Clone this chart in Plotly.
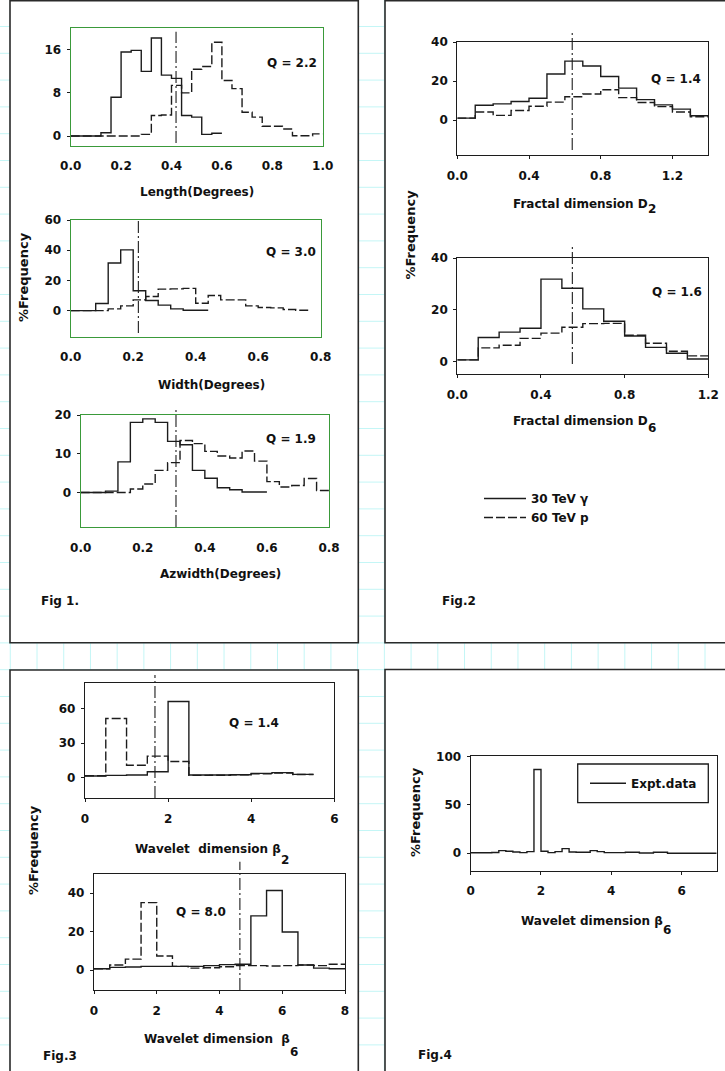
import numpy as np
import plotly.graph_objects as go

W, H = 725, 1071
FONT = "DejaVu Sans"

# ------------------------------------------------------------------ data
# Fig 1  (bin width 0.04 deg)
length_bw = 0.04
length_gamma = [0, 0, 0, 0.6, 7.2, 15.6, 15.9, 12.0, 18.2, 11.3, 10.7, 3.8, 3.5, 0.3, 0.5]
length_proton = [0, 0, 0, 0, 0, 0, 0, 0.3, 3.8, 3.9, 9.4, 8.0, 12.4, 12.9, 17.4,
                 10.3, 8.8, 4.4, 3.5, 1.8, 1.8, 1.3, 0.05, 0.05, 0.4]
length_q = 0.418

width_bw = 0.04
width_gamma = [0, 0, 4.7, 31.5, 40.2, 13.1, 6.7, 3.6, 1.1, 0.2, 0.2]
width_proton = [0, 0, 0, 1.1, 3.1, 7.1, 9.3, 14.2, 14.4, 14.7, 4.9, 10.0, 7.1, 7.1,
                3.1, 2.0, 1.8, 0.7, 0.2]
width_q = 0.2165

azw_bw = 0.04
azw_gamma = [0, 0, 0.35, 7.9, 18.1, 19.0, 18.1, 13.2, 12.3, 5.7, 3.65, 1.2, 0.7, 0.1, 0.1]
azw_proton = [0, 0, 0, 0, 0.9, 2.2, 5.7, 7.7, 13.4, 12.6, 10.6, 9.4, 8.9, 10.7, 8.1,
              2.8, 1.4, 1.8, 3.6, 0.5]
azw_q = 0.307

# Fig 2  (bin width 0.1)
d2_bw = 0.1
d2_gamma = [1.0, 7.6, 8.3, 9.5, 11.2, 23.7, 30.3, 27.8, 22.4, 16.4, 10.5, 7.8, 5.6, 2.2]
d2_proton = [1.0, 4.1, 2.4, 4.9, 7.1, 9.2, 12.0, 13.4, 15.6, 11.5, 9.0, 6.9, 4.1, 1.7]
d2_q = 0.641

d6_bw = 0.1
d6_gamma = [0.65, 9.3, 11.4, 12.9, 31.9, 28.4, 20.4, 15.6, 9.9, 5.5, 3.2, 1.0]
d6_proton = [0.65, 5.3, 6.3, 9.0, 11.0, 13.3, 14.7, 14.8, 10.2, 7.1, 4.0, 2.2]
d6_q = 0.55

# Fig 3  (bin width 0.5)
b2_bw = 0.5
b2_gamma = [1.5, 2.0, 2.3, 5.2, 65.9, 2.3, 2.3, 2.6, 3.8, 4.4, 2.9]
b2_proton = [1.7, 51.3, 10.8, 18.7, 14.0, 2.0, 2.2, 2.5, 3.5, 4.0, 2.8]
b2_q = 1.684

b6_bw = 0.5
b6_gamma = [0.7, 1.4, 1.6, 1.9, 1.9, 1.9, 1.9, 2.3, 2.8, 3.0, 28.2, 41.4, 19.8, 2.6, 1.0, 0.7]
b6_proton = [0.7, 2.6, 5.7, 35.1, 7.3, 1.9, 1.0, 1.2, 1.7, 2.3, 2.3, 2.1, 2.3, 2.6, 2.3, 3.0]
b6_q = 4.65

# Fig 4  (bin width 0.2)
expt_bw = 0.2
expt_b6 = [0.5, 0.5, 0.6, 0.8, 2.8, 2.1, 1.4, 0.7, 1.7, 86.6, 2.1, 0.7, 1.7, 4.8, 1.4,
           1.0, 1.0, 2.8, 1.7, 0.7, 0.7, 0.7, 1.0, 1.0, 0.3, 0.3, 1.0, 1.0,
           0, 0, 0, 0, 0, 0, 0]

q_labels = ["Q = 2.2", "Q = 3.0", "Q = 1.9", "Q = 1.4", "Q = 1.6", "Q = 1.4", "Q = 8.0"]
series_names = ["30 TeV \u03b3", "60 TeV p", "Expt.data"]

# ------------------------------------------------------------------ helpers
def px(x):
    return x / W


def py(y):
    return 1 - y / H


def step_xy(values, bw):
    edges = bw * np.arange(len(values) + 1)
    return edges, list(values) + [values[-1]]


GREEN = "#3a9a3a"
INK = "#1c1c1c"
TXT = "#111111"

# panel layout: frame in px (x0, y0, x1, y1), ranges, ticks, frame colour, x tick marks
panels = [
    dict(frame=(70.7, 28.3, 322.7, 145.7), xr=[0, 1.0], yr=[-1.8, 20], xt=[0, 0.2, 0.4, 0.6, 0.8, 1.0], xf=".1f", yt=[0, 8, 16], col=GREEN, xtick=False),
    dict(frame=(70.7, 220.0, 320.7, 336.7), xr=[0, 0.8], yr=[-17.3, 60], xt=[0, 0.2, 0.4, 0.6, 0.8], xf=".1f", yt=[0, 20, 40, 60], col=GREEN, xtick=False),
    dict(frame=(80.7, 415.0, 329.0, 527.3), xr=[0, 0.8], yr=[-9, 20], xt=[0, 0.2, 0.4, 0.6, 0.8], xf=".1f", yt=[0, 10, 20], col=GREEN, xtick=False),
    dict(frame=(457.3, 41.7, 708.3, 155.0), xr=[0, 1.4], yr=[-18, 40.3], xt=[0, 0.4, 0.8, 1.2], xf=".1f", yt=[0, 20, 40], col=INK, xtick=True),
    dict(frame=(457.3, 257.7, 708.3, 374.0), xr=[0, 1.2], yr=[-4.8, 40.2], xt=[0, 0.4, 0.8, 1.2], xf=".1f", yt=[0, 20, 40], col=INK, xtick=True),
    dict(frame=(85.0, 683.3, 334.3, 798.3), xr=[0, 6], yr=[-17.8, 81.7], xt=[0, 2, 4, 6], xf="d", yt=[0, 30, 60], col=INK, xtick=True),
    dict(frame=(94.0, 874.0, 345.0, 990.0), xr=[0, 8], yr=[-10.4, 50], xt=[0, 2, 4, 6, 8], xf="d", yt=[0, 20, 40], col=INK, xtick=True),
    dict(frame=(470.7, 756.0, 716.7, 870.7), xr=[0, 7], yr=[-18, 100.6], xt=[0, 2, 4, 6], xf="d", yt=[0, 50, 100], col=INK, xtick=True),
]

hist_pairs = [
    (length_gamma, length_proton, length_bw, length_q),
    (width_gamma, width_proton, width_bw, width_q),
    (azw_gamma, azw_proton, azw_bw, azw_q),
    (d2_gamma, d2_proton, d2_bw, d2_q),
    (d6_gamma, d6_proton, d6_bw, d6_q),
    (b2_gamma, b2_proton, b2_bw, b2_q),
    (b6_gamma, b6_proton, b6_bw, b6_q),
]
# vertical extent of the Q (cut) lines, as fraction of each plot's height
qline_span = [(0.023, 0.971), (0.032, 1.009), (0.003, 1.071), (0.044, 1.088),
              (0.086, 1.095), (0.003, 1.072), (0.0, 1.106)]
q_pos = [(292, 63), (291, 252), (291, 439), (676, 79), (676.7, 291.7), (254, 723.3), (200.7, 911.7)]

fig = go.Figure()
tickfont = dict(family=FONT, size=12, color=TXT, weight="bold")
shapes = []

# background spreadsheet grid
GRID = "#c4f6f6"
for k in range(-2, 40):
    yv = 53.3 + 26.8 * k
    if 0 <= yv <= H:
        shapes.append(dict(type="line", xref="paper", yref="paper", x0=0, x1=1, y0=py(yv), y1=py(yv),
                           line=dict(color=GRID, width=1), layer="below"))
for k in range(-1, 27):
    xv = 37 + 26.72 * k
    if 0 <= xv <= W:
        shapes.append(dict(type="line", xref="paper", yref="paper", x0=px(xv), x1=px(xv), y0=0, y1=1,
                           line=dict(color=GRID, width=1), layer="below"))
# panel boxes
for (x0, y0, x1, y1) in [(10, 0.8, 358.3, 642.7), (385, 0.8, 740, 642.7),
                         (10, 670, 358.3, 1090), (385, 669.5, 740, 1090)]:
    shapes.append(dict(type="rect", xref="paper", yref="paper", x0=px(x0), x1=px(x1), y0=py(y1), y1=py(y0),
                       fillcolor="white", line=dict(color="#2a2a2a", width=1.6), layer="below"))

layout_axes = {}
for i, p in enumerate(panels, start=1):
    sx = "" if i == 1 else str(i)
    x0, y0, x1, y1 = p["frame"]
    layout_axes["xaxis" + sx] = dict(
        domain=[px(x0), px(x1)], range=p["xr"], anchor="y" + sx, automargin=False,
        tickvals=p["xt"], tickformat=p["xf"], showgrid=False, zeroline=False,
        showline=True, mirror=True, linecolor=p["col"], linewidth=1.3,
        ticks="outside" if p["xtick"] else "", ticklen=3, tickcolor=INK, tickwidth=1,
        tickfont=tickfont, ticklabelstandoff=6 if p["xtick"] else 9, fixedrange=True)
    layout_axes["yaxis" + sx] = dict(
        domain=[py(y1), py(y0)], range=p["yr"], anchor="x" + sx, automargin=False,
        tickvals=p["yt"], showgrid=False, zeroline=False,
        showline=True, mirror=True, linecolor=p["col"], linewidth=1.3,
        ticks="outside", ticklen=3, tickcolor=INK, tickwidth=1,
        tickfont=tickfont, ticklabelstandoff=3, fixedrange=True)

for i, (g, pr, bw, q) in enumerate(hist_pairs, start=1):
    sx = "" if i == 1 else str(i)
    xg, yg = step_xy(g, bw)
    xp, yp = step_xy(pr, bw)
    fig.add_trace(go.Scatter(x=xp, y=yp, mode="lines", line=dict(shape="hv", color=INK, width=1.4, dash="9px,3px"),
                             name=series_names[1], showlegend=(i == 4), legend="legend",
                             xaxis="x" + sx, yaxis="y" + sx))
    fig.add_trace(go.Scatter(x=xg, y=yg, mode="lines", line=dict(shape="hv", color=INK, width=1.4),
                             name=series_names[0], showlegend=(i == 4), legend="legend",
                             xaxis="x" + sx, yaxis="y" + sx))
    lo, hi = qline_span[i - 1]
    shapes.append(dict(type="line", xref="x" + sx, yref="y" + sx + " domain", x0=q, x1=q, y0=lo, y1=hi,
                       line=dict(color=INK, width=1.1, dash="12px,3px,2px,3px"), layer="above"))

xe, ye = step_xy(expt_b6, expt_bw)
fig.add_trace(go.Scatter(x=xe, y=ye, mode="lines", line=dict(shape="hv", color=INK, width=1.4),
                         name=series_names[2], showlegend=True, legend="legend2",
                         xaxis="x8", yaxis="y8"))

# legend box of Fig.4
shapes.append(dict(type="rect", xref="paper", yref="paper", x0=px(577.7), x1=px(708.3), y0=py(802.7), y1=py(764),
                   line=dict(color=INK, width=1.3), fillcolor="rgba(0,0,0,0)", layer="above"))

# ------------------------------------------------------------------ text
ann = []
bold12 = dict(family=FONT, size=12, color=TXT, weight="bold")
bold13 = dict(family=FONT, size=13, color=TXT, weight="bold")


def add_text(text, x, y, font=bold12, xanchor="center", yanchor="middle", angle=0):
    ann.append(dict(text=text, x=px(x), y=py(y), xref="paper", yref="paper", showarrow=False,
                    xanchor=xanchor, yanchor=yanchor, font=font, textangle=angle,
                    borderpad=0, borderwidth=0))


for lab, (qx, qy) in zip(q_labels, q_pos):
    add_text(lab, qx, qy)

add_text("Length(Degrees)", 197, 192)
add_text("Width(Degrees)", 211, 385)
add_text("Azwidth(Degrees)", 220.7, 574)

# axis titles with subscripts: main text ends where the (full size) subscript begins
sub_titles = [
    ("Fractal dimension D", "2", 647.5, 203.5, 209),
    ("Fractal dimension D", "6", 647.5, 421.5, 428),
    ("Wavelet\u00a0 dimension \u03b2", "2", 281.0, 848.5, 860),
    ("Wavelet dimension\u00a0 \u03b2", "6", 290.3, 1039, 1051.5),
    ("Wavelet dimension \u03b2", "6", 662.5, 921, 930),
]
for main, sub, xs, ym, ysub in sub_titles:
    add_text(main, xs, ym, xanchor="right")
    add_text(sub, xs, ysub, xanchor="left")

for (x, y) in [(24, 277), (410, 234.5), (33, 850), (415, 812)]:
    add_text("%Frequency", x, y, font=bold13, angle=-90)

add_text("Fig 1.", 40.7, 600.7, xanchor="left")
add_text("Fig.2", 442.3, 601, xanchor="left")
add_text("Fig.3", 42.7, 1056, xanchor="left")
add_text("Fig.4", 418.3, 1055, xanchor="left")

fig.update_layout(
    template="none",
    width=W, height=H, margin=dict(l=0, r=0, t=0, b=0, pad=0, autoexpand=False),
    paper_bgcolor="white", plot_bgcolor="rgba(0,0,0,0)",
    shapes=shapes, annotations=ann,
    legend=dict(x=px(479), y=py(484), xanchor="left", yanchor="top", bgcolor="rgba(0,0,0,0)",
                font=bold12, traceorder="reversed", tracegroupgap=0, itemwidth=42, borderwidth=0),
    legend2=dict(x=px(585), y=py(783.3), xanchor="left", yanchor="middle", bgcolor="rgba(0,0,0,0)",
                 font=bold12, itemwidth=36, borderwidth=0),
    **layout_axes,
)

fig.write_html("out.html", config={"displayModeBar": False},
               post_script="document.body.style.margin='0';document.body.style.overflow='hidden';")
